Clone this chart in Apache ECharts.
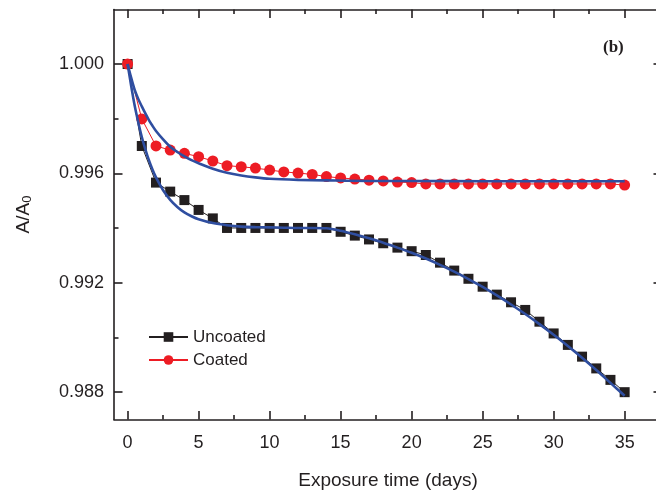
<!DOCTYPE html>
<html><head><meta charset="utf-8">
<script src="https://cdn.jsdelivr.net/npm/echarts@6/dist/echarts.min.js"></script>
<style>html,body{margin:0;padding:0;background:#fff}#c{width:656px;height:491px}</style>
</head><body><div id="c"></div>
<script>
const days = [0,1,2,3,4,5,6,7,8,9,10,11,12,13,14,15,16,17,18,19,20,21,22,23,24,25,26,27,28,29,30,31,32,33,34,35];
const uncoated = [1.00000,0.99700,0.99566,0.99533,0.99502,0.99466,0.99435,0.99400,0.99400,0.99400,0.99400,0.99400,0.99400,0.99400,0.99400,0.99386,0.99372,0.99358,0.99344,0.99328,0.99315,0.99301,0.99273,0.99244,0.99214,0.99185,0.99156,0.99128,0.99100,0.99057,0.99014,0.98972,0.98929,0.98886,0.98844,0.98799];
const coated = [1.00000,0.99799,0.99700,0.99685,0.99673,0.99661,0.99645,0.99628,0.99624,0.99619,0.99612,0.99605,0.99601,0.99596,0.99588,0.99583,0.99579,0.99575,0.99572,0.99568,0.99566,0.99561,0.99561,0.99561,0.99561,0.99561,0.99561,0.99561,0.99561,0.99561,0.99561,0.99561,0.99561,0.99561,0.99561,0.99557];
const fitUncoatedX = [0,0.25,0.5,0.75,1,1.25,1.5,1.75,2,2.5,3,3.5,4,4.5,5,6,7,8,9,10,11,12,13,14,15,16,17,18,19,20,21,22,23,24,25,26,27,28,29,30,31,32,33,34,35];
const fitUncoatedY = [1.00000,0.99920,0.99847,0.99787,0.99733,0.99688,0.99648,0.99614,0.99585,0.99538,0.99503,0.99477,0.99457,0.99443,0.99432,0.99418,0.99410,0.99405,0.99403,0.99402,0.99401,0.99400,0.99400,0.99399,0.99390,0.99377,0.99362,0.99346,0.99328,0.99309,0.99288,0.99265,0.99240,0.99213,0.99184,0.99153,0.99120,0.99085,0.99048,0.99009,0.98968,0.98925,0.98880,0.98833,0.98786];
const fitCoatedX = [0,0.25,0.5,0.75,1,1.25,1.5,1.75,2,2.5,3,3.5,4,4.5,5,6,7,8,9,10,12,14,17,20,25,30,35];
const fitCoatedY = [1.00000,0.99950,0.99905,0.99872,0.99845,0.99819,0.99795,0.99774,0.99755,0.99724,0.99697,0.99678,0.99662,0.99648,0.99637,0.99617,0.99602,0.99592,0.99585,0.99580,0.99576,0.99574,0.99572,0.99572,0.99571,0.99571,0.99571];
const xMajor = [0,5,10,15,20,25,30,35];
const xMinor = [2.5,7.5,12.5,17.5,22.5,27.5,32.5,37.5];
const yMajor = [0.988,0.992,0.996,1.000];
const yMinor = [0.990,0.994,0.998];

const XMIN = -0.958, XMAX = 37.63, YMIN = 0.98699, YMAX = 1.001995;
const INK = '#231f20';
const FONT = 'Liberation Sans, Arial, sans-serif';
const zip = (a, b) => a.map((v, i) => [v, b[i]]);

function xAx(pos, ticks, len, showLine, labels, extra) {
  return Object.assign({
    type: 'value', position: pos, min: XMIN, max: XMAX,
    splitLine: {show: false},
    axisLine: {show: showLine, onZero: false, lineStyle: {color: INK, width: 1.6}},
    axisTick: {show: true, customValues: ticks, inside: true, length: len, lineStyle: {color: INK, width: 1.6}},
    axisLabel: labels ? {customValues: ticks, fontSize: 18, color: INK, margin: 15, fontFamily: FONT} : {show: false}
  }, extra || {});
}
function yAx(pos, ticks, len, showLine, labels, extra) {
  return Object.assign({
    type: 'value', position: pos, min: YMIN, max: YMAX, scale: true,
    splitLine: {show: false},
    axisLine: {show: showLine, onZero: false, lineStyle: {color: INK, width: 1.6}},
    axisTick: {show: true, customValues: ticks, inside: true, length: len, lineStyle: {color: INK, width: 1.6}},
    axisLabel: labels ? {customValues: ticks, fontSize: 18, color: INK, margin: 10, fontFamily: FONT,
      formatter: v => v.toFixed(3)} : {show: false}
  }, extra || {});
}

const chart = echarts.init(document.getElementById('c'), null, {renderer: 'canvas'});
chart.setOption({
  animation: false,
  backgroundColor: '#fff',
  textStyle: {fontFamily: FONT},
  title: {text: '(b)', left: 603, top: 39, padding: 0,
    textStyle: {fontFamily: 'Liberation Serif, Times New Roman, serif', fontWeight: 'bold', fontSize: 17, color: INK}},
  grid: {left: 114, top: 9.5, width: 548, height: 410, containLabel: false, outerBoundsMode: 'none'},
  legend: {
    data: ['Uncoated', 'Coated'], orient: 'vertical', left: 148, top: 328, padding: 0,
    itemWidth: 39, itemHeight: 12, itemGap: 5,
    textStyle: {fontSize: 17, color: INK, fontFamily: FONT, lineHeight: 18}
  },
  xAxis: [
    xAx('bottom', xMajor, 8.5, true, true, {name: 'Exposure time (days)', nameLocation: 'middle', nameGap: 52,
      nameTextStyle: {fontSize: 19, color: INK, fontFamily: FONT}}),
    xAx('bottom', xMinor, 4.5, false, false),
    xAx('top', xMajor, 8.5, true, false),
    xAx('top', xMinor, 4.5, false, false)
  ],
  yAxis: [
    yAx('left', yMajor, 8.5, true, true, {name: '{a|A/A}{s|0}', nameLocation: 'middle', nameGap: 80,
      nameTextStyle: {color: INK, rich: {a: {fontSize: 19, color: INK, fontFamily: FONT},
        s: {fontSize: 13, color: INK, fontFamily: FONT, verticalAlign: 'bottom', padding: [8, 0, 0, 0]}}}}),
    yAx('left', yMinor, 4.5, false, false),
    yAx('right', yMajor, 8.5, true, false),
    yAx('right', yMinor, 4.5, false, false)
  ],
  series: [
    {name: 'Uncoated', type: 'line', xAxisIndex: 0, yAxisIndex: 0, data: zip(days, uncoated),
      symbol: 'rect', symbolSize: 10, itemStyle: {color: INK}, lineStyle: {color: INK, width: 1}, z: 2},
    {name: 'Coated', type: 'line', xAxisIndex: 0, yAxisIndex: 0, data: zip(days, coated),
      symbol: 'circle', symbolSize: 11, itemStyle: {color: '#ed1c24'}, lineStyle: {color: '#ed1c24', width: 1}, z: 3},
    {name: 'Uncoated fit', type: 'line', xAxisIndex: 0, yAxisIndex: 0, data: zip(fitUncoatedX, fitUncoatedY),
      showSymbol: false, smooth: 0.3, lineStyle: {color: '#2f4ea0', width: 2.6}, z: 4},
    {name: 'Coated fit', type: 'line', xAxisIndex: 0, yAxisIndex: 0, data: zip(fitCoatedX, fitCoatedY),
      showSymbol: false, smooth: 0.3, lineStyle: {color: '#2f4ea0', width: 2.6}, z: 4}
  ]
});
</script></body></html>
